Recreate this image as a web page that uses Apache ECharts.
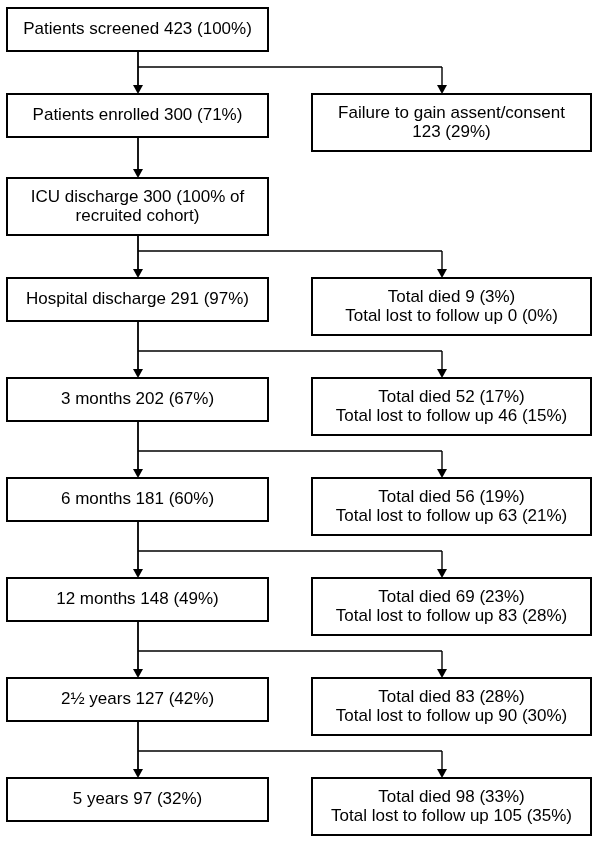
<!DOCTYPE html>
<html>
<head>
<meta charset="utf-8">
<script src="https://cdn.jsdelivr.net/npm/echarts@6/dist/echarts.min.js"></script>
<style>
html, body { margin: 0; padding: 0; background: #ffffff; }
#chart { width: 600px; height: 841px; }
</style>
</head>
<body>
<div id="chart"></div>
<script>
// ---------------- DATA ----------------
const stages = ['Patients screened', 'Patients enrolled', 'ICU discharge', 'Hospital discharge',
  '3 months', '6 months', '12 months', '2\u00BD years', '5 years'];
const remainingN = [423, 300, 300, 291, 202, 181, 148, 127, 97];
const remainingPct = ['100%', '71%', '100% of\nrecruited cohort', '97%', '67%', '60%', '49%', '42%', '32%'];
const diedN = [null, null, null, 9, 52, 56, 69, 83, 98];
const diedPct = [null, null, null, 3, 17, 19, 23, 28, 33];
const lostN = [null, null, null, 0, 46, 63, 83, 90, 105];
const lostPct = [null, null, null, 0, 15, 21, 28, 30, 35];
const refusedLabel = 'Failure to gain assent/consent';
const refusedN = 123;
const refusedPct = 29;
const refusedRow = 1;

// ---------------- TEXT ----------------
function leftText(i) {
  return stages[i] + ' ' + remainingN[i] + ' (' + remainingPct[i] + ')';
}
function rightText(i) {
  if (i === refusedRow) return refusedLabel + '\n' + refusedN + ' (' + refusedPct + '%)';
  if (diedN[i] == null) return null;
  return 'Total died ' + diedN[i] + ' (' + diedPct[i] + '%)\nTotal lost to follow up ' + lostN[i] + ' (' + lostPct[i] + '%)';
}

// ---------------- LAYOUT (style, not data) ----------------
const L = {
  leftX0: 7, leftX1: 268, rightX0: 312, rightX1: 591,
  stemL: 138, stemR: 442,
  top0: 8, hOne: 43, hTwo: 57, gapBranch: 43, gapPlain: 27, drop: 27,
  font: '17px "Liberation Sans", Arial, Helvetica, sans-serif', lineHeight: 19
};
function boxH(t) { return t == null ? 0 : (t.split('\n').length > 1 ? L.hTwo : L.hOne); }
const rowTop = [];
stages.forEach(function (s, i) {
  if (i === 0) { rowTop.push(L.top0); return; }
  const prevH = Math.max(boxH(leftText(i - 1)), boxH(rightText(i - 1)));
  rowTop.push(rowTop[i - 1] + prevH + (rightText(i) ? L.gapBranch : L.gapPlain));
});

function boxEl(api, x0, x1, y0, h, text) {
  const p0 = api.coord([x0, y0]);
  const p1 = api.coord([x1, y0 + h]);
  return {
    type: 'group',
    children: [
      { type: 'rect', shape: { x: p0[0], y: p0[1], width: p1[0] - p0[0], height: p1[1] - p0[1] },
        style: { fill: '#ffffff', stroke: '#000000', lineWidth: 2 } },
      { type: 'text', style: { text: text, x: (p0[0] + p1[0]) / 2, y: (p0[1] + p1[1]) / 2,
        align: 'center', verticalAlign: 'middle', font: L.font, lineHeight: L.lineHeight, fill: '#000000' } }
    ]
  };
}
function arrow(api, x, y0, y1, w) {
  const a = api.coord([x, y0]);
  const b = api.coord([x, y1]);
  return [
    { type: 'line', shape: { x1: a[0], y1: a[1], x2: b[0], y2: b[1] - 6 }, style: { stroke: '#000', lineWidth: w } },
    { type: 'polygon', shape: { points: [[b[0] - 5, b[1] - 9], [b[0] + 5, b[1] - 9], [b[0], b[1]]] }, style: { fill: '#000' } }
  ];
}

const chart = echarts.init(document.getElementById('chart'), null, { renderer: 'canvas' });
chart.setOption({
  animation: false,
  backgroundColor: '#ffffff',
  grid: { left: 0, right: 0, top: 0, bottom: 0 },
  xAxis: { type: 'value', min: 0, max: 600, show: false },
  yAxis: { type: 'value', min: 0, max: 841, inverse: true, show: false },
  series: [
    {
      type: 'custom', name: 'connectors', silent: true,
      data: stages.map(function (s, i) { return [i, i]; }).slice(1),
      renderItem: function (params, api) {
        const i = params.dataIndex + 1;
        const prevBottom = rowTop[i - 1] + boxH(leftText(i - 1));
        const children = arrow(api, L.stemL, prevBottom, rowTop[i], 1.8);
        if (rightText(i)) {
          const by = rowTop[i] - L.drop;
          const a = api.coord([L.stemL, by]);
          const b = api.coord([L.stemR, by]);
          children.push({ type: 'line', shape: { x1: a[0], y1: a[1], x2: b[0], y2: b[1] }, style: { stroke: '#000', lineWidth: 1.4 } });
          arrow(api, L.stemR, by, rowTop[i], 1.4).forEach(function (c) { children.push(c); });
        }
        return { type: 'group', children: children };
      }
    },
    {
      type: 'custom', name: 'stages', silent: true,
      data: stages.map(function (s, i) { return [i, i]; }),
      renderItem: function (params, api) {
        const i = params.dataIndex;
        const t = leftText(i);
        return boxEl(api, L.leftX0, L.leftX1, rowTop[i], boxH(t), t);
      }
    },
    {
      type: 'custom', name: 'exits', silent: true,
      data: stages.map(function (s, i) { return [i, i]; }),
      renderItem: function (params, api) {
        const i = params.dataIndex;
        const t = rightText(i);
        if (!t) return null;
        return boxEl(api, L.rightX0, L.rightX1, rowTop[i], boxH(t), t);
      }
    }
  ]
});
</script>
</body>
</html>
